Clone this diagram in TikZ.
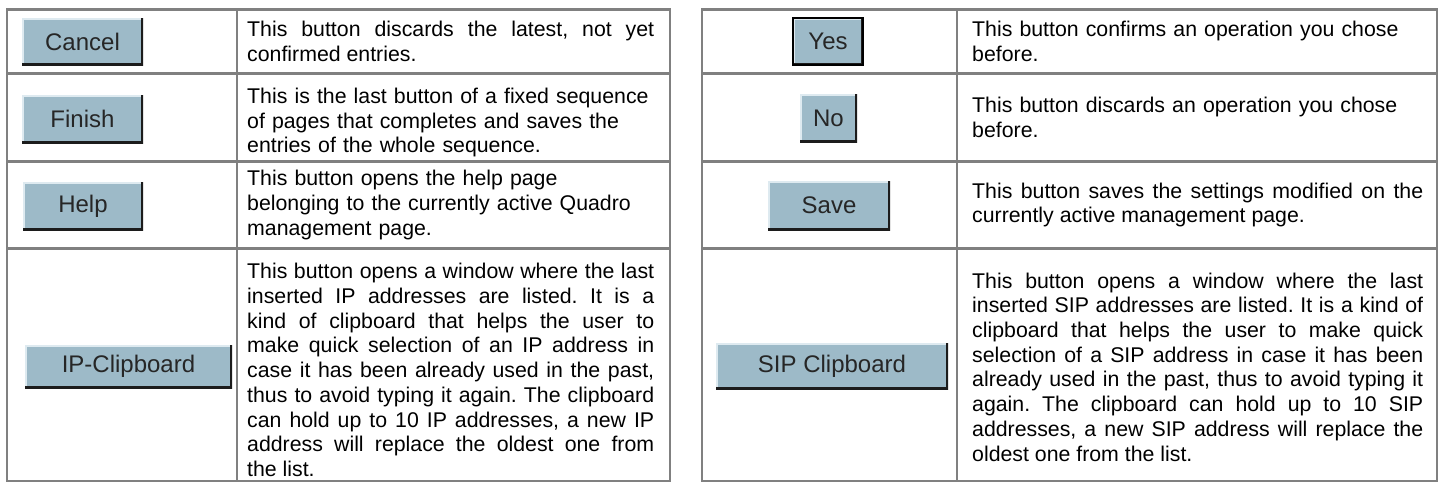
\documentclass[tikz,border=0pt]{standalone}
\usepackage{fontspec}
\setmainfont{Liberation Sans}
\usepackage{xcolor}
\usetikzlibrary{positioning}

\definecolor{gridgray}{RGB}{128,128,128}
\definecolor{btnblue}{RGB}{157,186,200}
\definecolor{btnlight}{RGB}{222,234,240}
\definecolor{btndark}{RGB}{28,28,28}

\tikzset{
  grid/.style={draw=gridgray, line width=2.5pt},
  btn/.style={fill=btnblue, inner sep=0pt, text=black!85,
    font=\fontsize{24}{28}\selectfont,
    path picture={
      \draw[btnlight, line width=3pt] (path picture bounding box.south west) |- (path picture bounding box.north east);
      \draw[btndark, line width=4pt] (path picture bounding box.south west) -| (path picture bounding box.north east);
    }},
  defbtn/.style={btn, draw=black, line width=2pt},
  desc/.style={anchor=west, inner sep=0pt, font=\fontsize{21.3}{24.7}\selectfont},
}

\begin{document}
\frenchspacing
\tolerance=10000
\begin{tikzpicture}[x=1pt,y=-1pt]
  \useasboundingbox (0,0) rectangle (1440,483);

  % left table
  \draw[grid] (7,9.5) rectangle (670,481);
  \draw[grid] (237,9.5) -- (237,481);
  \foreach \y in {73.5,161.5,248.5}
    \draw[grid] (7,\y) -- (670,\y);

  % right table
  \draw[grid] (702,9.5) rectangle (1437,481);
  \draw[grid] (957,9.5) -- (957,481);
  \foreach \y in {73.5,161.5,248.5}
    \draw[grid] (702,\y) -- (1437,\y);

  % buttons
  \node[btn, minimum width=121pt, minimum height=47pt] (cancel) at (82.5,41.5) {Cancel};
  \node[btn, minimum width=121pt, minimum height=48pt] (finish) at (82.5,119) {Finish};
  \node[btn, minimum width=120pt, minimum height=48pt] (help) at (83,206) {Help};
  \node[btn, minimum width=207pt, minimum height=43pt] (ipclip) at (128.5,366.5) {IP-Clipboard};
  \node[defbtn, minimum width=70pt, minimum height=47pt] (yes) at (828,41.5) {Yes};
  \node[btn, minimum width=57pt, minimum height=48pt] (no) at (828.5,118) {No};
  \node[btn, minimum width=122pt, minimum height=49pt] (save) at (829,205.5) {Save};
  \node[btn, minimum width=232pt, minimum height=46pt] (sipclip) at (832,366) {SIP Clipboard};

  % descriptions, left
  \node[desc, text width=407pt, align=justify] (cancelTxt) at (247,41.5)
    {This button discards the latest, not yet\linebreak confirmed entries.};
  \node[desc, text width=407pt, align=left] (finishTxt) at (247,122.5)
    {This is the last button of a fixed sequence\\of pages that completes and saves the\\entries of the whole sequence.};
  \node[desc, text width=407pt, align=left] (helpTxt) at (247,205)
    {This button opens the help page\\belonging to the currently active Quadro\\management page.};
  \node[desc, text width=407pt, align=justify] (ipclipTxt) at (247,370)
    {This button opens a window where the last\linebreak
     inserted IP addresses are listed. It is a\linebreak
     kind of clipboard that helps the user to\linebreak
     make quick selection of an IP address in\linebreak
     case it has been already used in the past,\linebreak
     thus to avoid typing it again. The clipboard\linebreak
     can hold up to 10 IP addresses, a new IP\linebreak
     address will replace the oldest one from\linebreak
     the list.};

  % descriptions, right
  \node[desc, text width=451pt, align=left] (yesTxt) at (972,41.5)
    {This button confirms an operation you chose\\before.};
  \node[desc, text width=451pt, align=left] (noTxt) at (972,117.5)
    {This button discards an operation you chose\\before.};
  \node[desc, text width=451pt, align=justify] (saveTxt) at (972,205)
    {This button saves the settings modified on the\linebreak currently active management page.};
  \node[desc, text width=451pt, align=justify] (sipclipTxt) at (972,367)
    {This button opens a window where the last\linebreak
     inserted SIP addresses are listed. It is a kind of\linebreak
     clipboard that helps the user to make quick\linebreak
     selection of a SIP address in case it has been\linebreak
     already used in the past, thus to avoid typing it\linebreak
     again. The clipboard can hold up to 10 SIP\linebreak
     addresses, a new SIP address will replace the\linebreak
     oldest one from the list.};
\end{tikzpicture}
\end{document}
